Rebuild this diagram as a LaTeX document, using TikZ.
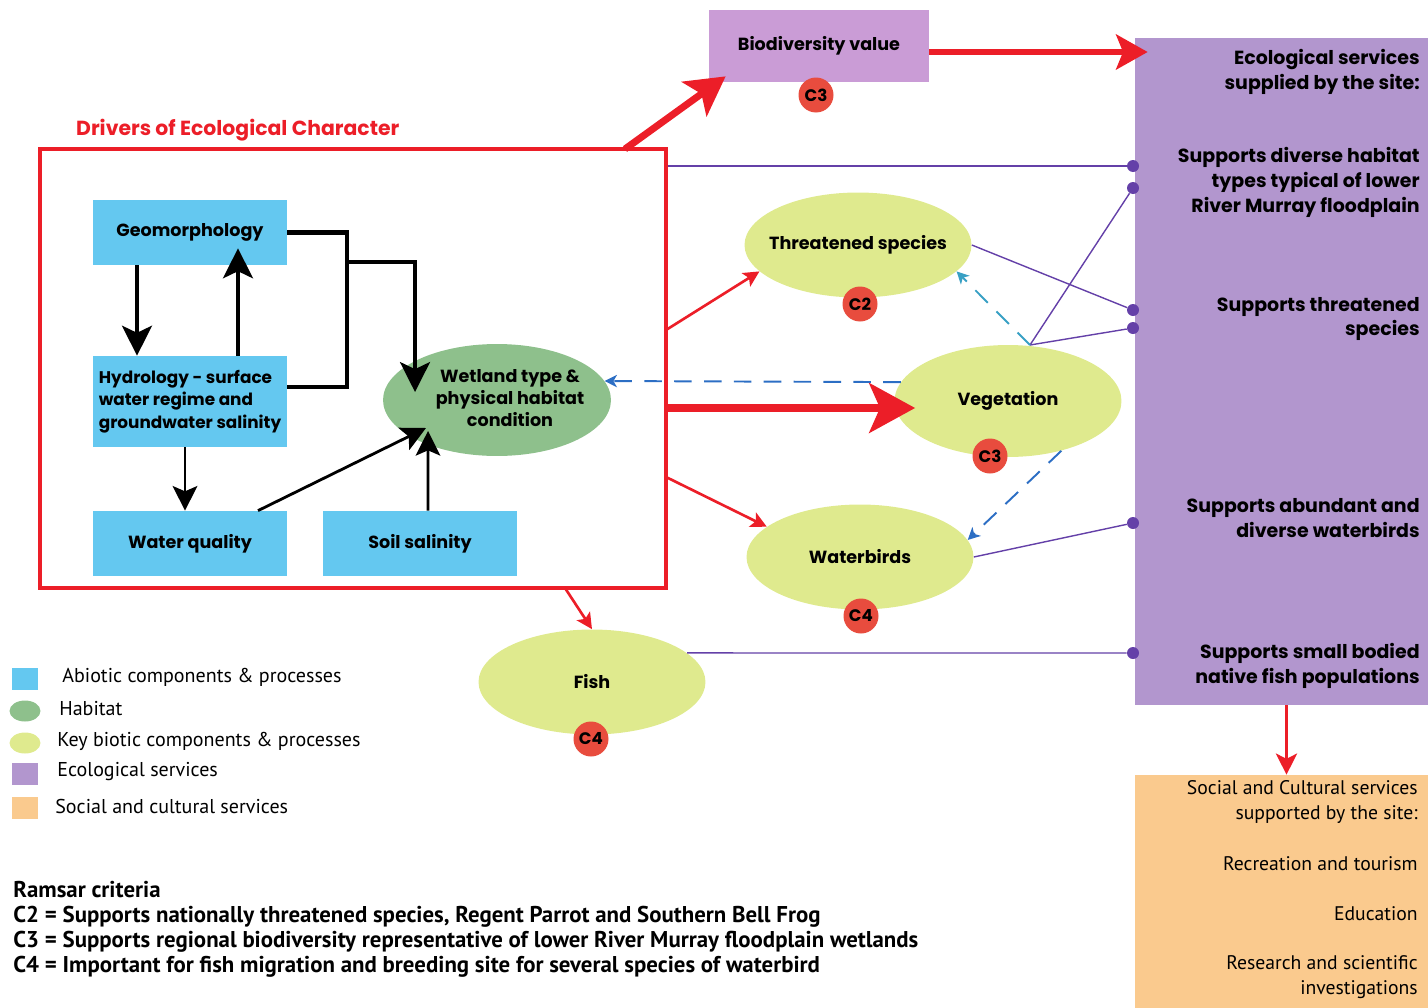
\documentclass[tikz,border=0pt]{standalone}
\usepackage{fontspec}
\setmainfont{Poppins}
\newfontfamily\keyfont{PT Sans}
\usetikzlibrary{arrows.meta,shapes.geometric}

\definecolor{abiotic}{RGB}{100,200,240}
\definecolor{habitat}{RGB}{142,192,140}
\definecolor{biotic}{RGB}{223,234,142}
\definecolor{ecoserv}{RGB}{178,150,206}
\definecolor{biodiv}{RGB}{202,156,214}
\definecolor{socserv}{RGB}{250,202,142}
\definecolor{driver}{RGB}{236,30,40}
\definecolor{critred}{RGB}{232,76,62}
\definecolor{linkpurple}{RGB}{100,64,168}
\definecolor{flowblue}{RGB}{44,110,196}
\definecolor{flowteal}{RGB}{56,160,196}

\begin{document}
\begin{tikzpicture}
    [x=0.02cm,y=-0.02cm,
     lbl/.style={font=\bfseries\fontsize{10}{12.8}\selectfont},
     box/.style={lbl, fill=abiotic, minimum width=3.88cm, minimum height=1.3cm},
     blob/.style={lbl, ellipse, fill=biotic, minimum width=4.54cm, minimum height=2.1cm},
     crit/.style={circle, fill=critred, minimum size=0.7cm, inner sep=0pt, font=\bfseries\fontsize{9.5}{10}\selectfont},
     dot/.style={circle, fill=linkpurple, minimum size=0.24cm, inner sep=0pt},
     svc/.style={font=\bfseries\fontsize{10.8}{14.2}\selectfont, anchor=east, align=right, inner sep=0pt},
     soc/.style={font=\keyfont\fontsize{11.2}{14.2}\selectfont, anchor=east, align=right, inner sep=0pt},
     key/.style={font=\keyfont\fontsize{11.4}{13}\selectfont, anchor=west, inner sep=0pt},
     swatch/.style={minimum width=0.52cm, minimum height=0.44cm, inner sep=0pt},
     blk/.style={line width=2.3pt, -{Stealth[length=17pt,width=17pt,inset=4pt]}},
     thinblk/.style={line width=1.6pt, -{Stealth[length=14pt,width=14pt,inset=3pt]}},
     redthick/.style={driver, line width=4pt, -{Stealth[length=22pt,width=24pt,inset=5pt]}},
     redthin/.style={driver, line width=1.5pt, -{Stealth[length=9pt,width=9pt,inset=2pt]}},
     flow/.style={flowblue, line width=1.1pt, dash pattern=on 10pt off 7pt, -{Stealth[length=7pt,width=7pt,inset=2pt]}},
     link/.style={linkpurple, line width=0.8pt}]

    % service boxes on the right
    \node (eco) [fill=ecoserv, minimum width=5.86cm, minimum height=13.34cm] at (1281.5,371.5) {};
    \node (soc) [fill=socserv, minimum width=5.86cm, minimum height=4.66cm] at (1281.5,891.5) {};
    \node (bio) [lbl, fill=biodiv, minimum width=4.4cm, minimum height=1.44cm] at (819,46) {Biodiversity value};

    % drivers frame
    \node (drivers) [draw=driver, line width=2.3pt, minimum width=12.52cm, minimum height=8.78cm] at (353,368.5) {};
    \node (dtitle) [anchor=west, text=driver, font=\bfseries\fontsize{11.6}{12}\selectfont] at (70,130) {Drivers of Ecological Character};

    \node (geo) [box] at (190,232.5) {Geomorphology};
    \node (hydro) [box, minimum height=1.82cm, inner sep=2pt, align=left, font=\bfseries\fontsize{9.6}{12.8}\selectfont] at (190,401.5) {Hydrology - surface\\water regime and\\groundwater salinity};
    \node (wq) [box] at (190,543.5) {Water quality};
    \node (soil) [box] at (420,543.5) {Soil salinity};
    \node (wet) [lbl, ellipse, fill=habitat, minimum width=4.56cm, minimum height=2.2cm] at (497,400)
      {\makebox[0pt]{\hspace*{0.52cm}\begin{tabular}{@{}c@{}}Wetland type \&\\physical habitat\\condition\end{tabular}}};

    % biotic components
    \node (threat) [blob] at (858,245) {\makebox[0pt]{Threatened species}};
    \node (veg) [blob, minimum height=2.24cm] at (1008,401) {\makebox[0pt]{Vegetation}};
    \node (wbird) [blob] at (860,557) {\makebox[0pt]{Waterbirds}};
    \node (fish) [blob] at (592,682) {\makebox[0pt]{Fish}};

    % links into the services
    \node (d1) [dot] at (1133,166) {};
    \node (d2) [dot] at (1133,188) {};
    \node (d3) [dot] at (1133,310) {};
    \node (d4) [dot] at (1133,328) {};
    \node (d5) [dot] at (1133,523) {};
    \node (d6) [dot] at (1133,653) {};
    \coordinate (vtop) at (1030,345);
    \foreach \from/\to in {drivers.east |- d1/d1, vtop/d2, threat.east/d3, vtop/d4, wbird.east/d5, fish.17/d6}
      \draw[link] (\from) -- (\to);

    % drivers
    \draw[blk] ([xshift=-1.06cm]geo.south) -- ([xshift=-1.06cm]hydro.north);
    \draw[blk] ([xshift=0.96cm]hydro.north) -- ([xshift=0.96cm,yshift=0.34cm]geo.south);
    \draw[line width=2.3pt] (geo.east) -- ++(60,0) |- ([yshift=0.29cm]hydro.east);
    \coordinate (j1) at (347,262);
    \draw[blk] (j1) -| ([xshift=-1.64cm,yshift=0.16cm]wet.center);
    \draw[thinblk] ([xshift=-0.1cm]hydro.south) -- ([xshift=-0.1cm]wq.north);
    \draw[thinblk] ([xshift=1.36cm]wq.north) -- ([xshift=-1.42cm,yshift=-0.56cm]wet.center);
    \draw[thinblk] ([xshift=0.16cm]soil.north) -- ([xshift=-1.38cm,yshift=-0.62cm]wet.center);

    % outputs of the drivers
    \coordinate (o0) at (625,149);
    \coordinate (o1) at (666,330);
    \coordinate (o2) at (666,408);
    \coordinate (o3) at (666,477);
    \coordinate (o4) at (565,588);
    \draw[redthick] (o0) -- ([xshift=0.34cm,yshift=0.12cm]bio.south west);
    \draw[redthick, line width=5pt, -{Stealth[length=26pt,width=28pt,inset=6pt]}] (o2) -- ([xshift=0.42cm]o2 -| veg.west);
    \foreach \from/\to in {o1/threat.195, o3/wbird.162, o4/fish.north}
      \draw[redthin] (\from) -- (\to);
    \coordinate (b1) at ([yshift=-0.12cm]bio.east);
    \draw[redthick, line width=3pt, -{Stealth[length=18pt,width=20pt,inset=4pt]}] (b1) -- ([xshift=0.26cm]b1 -| eco.west);
    \draw[redthin, line width=2pt, -{Stealth[length=12pt,width=12pt,inset=3pt]}] ([xshift=0.1cm]eco.south) -- ([xshift=0.1cm]soc.north);

    % vegetation feedbacks
    \draw[flow] (veg.170) -- (wet.10);
    \draw[flow, flowteal] (vtop) -- (threat.345);
    \draw[flow] (veg.317) -- (wbird.9);

    % Ramsar criteria badges
    \node (c3b) [crit] at (816,95) {C3};
    \node (c2t) [crit] at (860,304) {C2};
    \node (c3v) [crit] at (990,456) {C3};
    \node (c4w) [crit] at (861,616) {C4};
    \node (c4f) [crit] at (591,739) {C4};

    % service texts
    \node (ecohead) [svc] at (1420,72) {Ecological services\\supplied by the site:};
    \node (s1) [svc] at (1420,182) {Supports diverse habitat\\types typical of lower\\River Murray floodplain};
    \node (s2) [svc] at (1420,319) {Supports threatened\\species};
    \node (s3) [svc] at (1420,518) {Supports abundant and\\diverse waterbirds};
    \node (s4) [svc] at (1420,666) {Supports small bodied\\native fish populations};

    \node (sochead) [soc] at (1418,802) {Social and Cultural services\\supported by the site:};
    \node (t1) [soc] at (1418,864) {Recreation and tourism};
    \node (t2) [soc] at (1418,914) {Education};
    \node (t3) [soc] at (1418,977) {Research and scientific\\investigations};

    % key
    \node (k1) [swatch, fill=abiotic] at (25,679) {};
    \node (k2) [swatch, ellipse, fill=habitat, minimum width=0.62cm, minimum height=0.42cm] at (25,711) {};
    \node (k3) [swatch, ellipse, fill=biotic, minimum width=0.62cm, minimum height=0.42cm] at (25,743) {};
    \node (k4) [swatch, fill=ecoserv] at (25,774) {};
    \node (k5) [swatch, fill=socserv] at (25,808) {};
    \node (kt1) [key] at (62,677) {Abiotic components \& processes};
    \node (kt2) [key] at (59,709) {Habitat};
    \node (kt3) [key] at (57,741) {Key biotic components \& processes};
    \node (kt4) [key] at (57,772) {Ecological services};
    \node (kt5) [key] at (55,806) {Social and cultural services};

    \node (ramsar) [anchor=west, align=left, inner sep=0pt, font=\keyfont\bfseries\fontsize{13}{14.2}\selectfont] at (13,929.5)
      {Ramsar criteria\\
       C2 = Supports nationally threatened species, Regent Parrot and Southern Bell Frog\\
       C3 = Supports regional biodiversity representative of lower River Murray floodplain wetlands\\
       C4 = Important for fish migration and breeding site for several species of waterbird};

    \useasboundingbox (0,0) rectangle (1428,1008);
\end{tikzpicture}
\end{document}
